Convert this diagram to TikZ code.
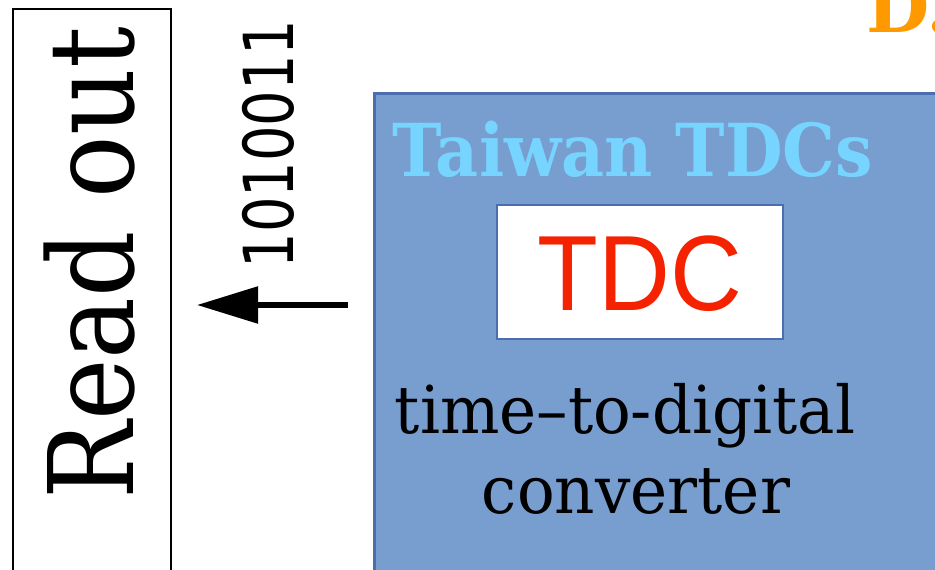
\documentclass[tikz,border=0pt]{standalone}
\usepackage{fontspec}
\usetikzlibrary{arrows.meta}
\newfontfamily\dvserif{DejaVu Serif}
\newfontfamily\dvsans{DejaVu Sans}
\newfontfamily\libsans{Liberation Sans}
\definecolor{boxblue}{HTML}{779ECF}
\definecolor{boxedge}{HTML}{4B6EAE}
\definecolor{cyantext}{HTML}{77D4FF}
\definecolor{tdcred}{HTML}{F52200}
\definecolor{orangetext}{HTML}{FF9900}
\tikzset{
  txt/.style={inner sep=0pt, outer sep=0pt, anchor=base},
  outline/.style={draw=black, line width=2pt},
  bigarrow/.style={line width=5.5pt, -{Triangle[length=61pt,width=36pt]}},
}
\begin{document}
\begin{tikzpicture}[x=1pt,y=-1pt]
\useasboundingbox (0,0) rectangle (935,570);
% Read out box
\draw[outline] (13,9) rectangle (171,590);
\node[txt, rotate=90] (readout) at (133,263) {\dvserif\fontsize{118}{120}\selectfont\scalebox{0.88}[1]{Read out}};
% bits
\node[txt, rotate=90] (bits) at (293,144) {\dvsans\fontsize{69}{70}\selectfont\scalebox{0.81}[1]{1010011}};
% arrow
\coordinate (arrstart) at (348,305);
\coordinate (arrend) at (197,305);
\draw[bigarrow] (arrstart) -- (arrend);
% blue box
\draw[fill=boxblue, draw=boxedge, line width=3pt] (374,93) rectangle (950,590);
\node[txt, text=cyantext] (taiwan) at (633,176) {\dvserif\bfseries\fontsize{73}{75}\selectfont\scalebox{0.91}[1]{Taiwan TDCs}};
% TDC box
\draw[fill=white, draw=boxedge, line width=1.5pt] (497,205) rectangle (783,339);
\node[txt, text=tdcred] (tdc) at (640,310) {\libsans\fontsize{107}{110}\selectfont\scalebox{0.93}[1]{TDC}};
\node[txt] (line1) at (625,433) {\dvserif\fontsize{66}{68}\selectfont\scalebox{0.95}[1]{time–to-digital}};
\node[txt] (line2) at (636,513) {\dvserif\fontsize{66}{68}\selectfont\scalebox{0.95}[1]{converter}};
% orange text cut at top right
\node[txt, anchor=base west, text=orangetext] (orange) at (866,32) {\dvserif\bfseries\fontsize{73}{75}\selectfont D.};
\end{tikzpicture}
\end{document}
